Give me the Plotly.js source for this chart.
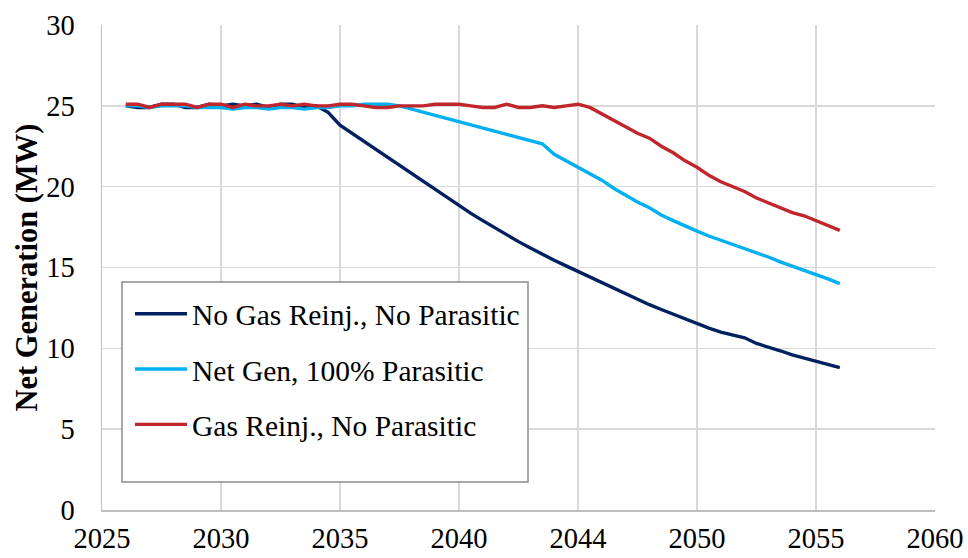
<!DOCTYPE html>
<html>
<head>
<meta charset="utf-8">
<script src="https://cdn.plot.ly/plotly-3.0.1.min.js"></script>
<style>html,body{margin:0;padding:0;background:#fff;}#chart{width:968px;height:558px;}</style>
</head>
<body>
<div id="chart"></div>
<script>
// Years (half-year steps)
const years = [2026,2026.5,2027,2027.5,2028,2028.5,2029,2029.5,2030,2030.5,2031,2031.5,2032,2032.5,2033,2033.5,2034,2034.5,2035,2035.5,2036,2036.5,2037,2037.5,2038,2038.5,2039,2039.5,2040,2040.5,2041,2041.5,2042,2042.5,2043,2043.5,2044,2044.5,2045,2045.5,2046,2046.5,2047,2047.5,2048,2048.5,2049,2049.5,2050,2050.5,2051,2051.5,2052,2052.5,2053,2053.5,2054,2054.5,2055,2055.5,2056];

const noGasNoParasitic = [25.0,24.9,24.9,25.1,25.1,24.9,24.9,25.1,25.0,25.1,25.0,25.1,24.9,25.1,25.1,24.9,25.0,
  24.6,23.8,23.3,22.85,22.35,21.85,21.35,20.85,20.35,19.85,19.35,18.85,18.35,17.9,17.45,17.0,16.6,16.2,15.8,15.45,15.1,14.75,14.4,14.05,13.7,13.35,13.0,12.7,12.4,12.1,11.8,11.5,11.25,11.0,10.8,10.65,10.3,10.1,9.85,9.6,9.4,9.2,9.0,8.8];

const netGen100Parasitic = [25.0,25.0,24.9,25.0,25.0,25.0,24.9,24.9,24.9,24.8,24.9,24.9,24.8,24.9,24.9,24.8,24.9,24.9,25.0,25.0,25.1,25.1,25.1,25.0,24.8,24.6,24.4,24.2,24.0,23.8,23.6,23.4,23.2,23.0,22.8,22.65,22.0,21.6,21.2,20.8,20.4,19.9,19.45,19.05,18.7,18.25,17.9,17.55,17.25,16.95,16.7,16.45,16.15,15.9,15.65,15.35,15.1,14.85,14.6,14.3,14.0];

const gasReinjNoParasitic = [25.1,25.1,24.9,25.1,25.1,25.1,24.9,25.1,25.1,24.9,25.1,25.0,25.0,25.1,25.0,25.1,25.0,25.0,25.1,25.1,25.0,24.9,24.9,25.0,25.0,25.0,25.1,25.1,25.1,25.0,24.9,24.9,25.1,24.9,24.9,25.0,24.9,25.0,25.1,24.9,24.5,24.1,23.7,23.3,23.0,22.5,22.1,21.6,21.2,20.7,20.3,20.0,19.7,19.3,19.0,18.7,18.4,18.2,17.9,17.6,17.3];

const seriesNames = ["No Gas Reinj., No Parasitic","Net Gen, 100% Parasitic","Gas Reinj., No Parasitic"];
const seriesColors = ["#002060","#00b0f0","#c0262c"];

const xTickVals = [2025,2030,2035,2040,2045,2050,2055,2060];
const xTickText = ["2025","2030","2035","2040","2044","2050","2055","2060"];
const yTickVals = [0,5,10,15,20,25,30];
const yTitle = "Net Generation (MW)";

const seriesData = [noGasNoParasitic, netGen100Parasitic, gasReinjNoParasitic];
const traces = seriesData.map((ys, i) => ({
  x: years, y: ys, type: 'scatter', mode: 'lines', name: seriesNames[i],
  legendgroup: 'g' + i,
  line: {color: seriesColors[i], width: 3.4}
}));

const fam = 'Liberation Serif, Times New Roman, serif';
const mk = (size) => ({family: fam, size: size, color: '#000'});

const layout = {
  width: 968, height: 558,
  margin: {l: 102, r: 33, t: 25, b: 48},
  paper_bgcolor: '#fff', plot_bgcolor: '#fff',
  showlegend: true,
  legend: {
    x: 0.0336, y: 0.4577, xanchor: 'left', yanchor: 'top',
    bgcolor: 'rgba(0,0,0,0)', borderwidth: 0,
    font: mk(29.5),
    tracegroupgap: 14, itemwidth: 52,
  },
  shapes: [{
    type: 'rect', xref: 'paper', yref: 'paper', layer: 'above',
    x0: 0.024, x1: 0.5114, y0: 0.0577, y1: 0.4701,
    line: {color: '#8c8c8c', width: 1.5}, fillcolor: '#fff'
  }],
  annotations: [{
    text: '<b>' + yTitle + '</b>', xref: 'paper', yref: 'paper',
    x: -0.0912, y: 0.5, xanchor: 'center', yanchor: 'middle',
    textangle: -90, showarrow: false, font: mk(30.5)
  }],
  xaxis: {
    range: [2025, 2060], tickmode: 'array', tickvals: xTickVals, ticktext: xTickText,
    showgrid: true, gridcolor: '#d9d9d9', gridwidth: 1.5,
    showline: true, linecolor: '#bfbfbf', linewidth: 1.5,
    zeroline: false, ticks: '', ticklabelstandoff: 2, automargin: false,
    tickfont: mk(28.5),
  },
  yaxis: {
    range: [0, 30], tickmode: 'array', tickvals: yTickVals,
    showgrid: true, gridcolor: '#d9d9d9', gridwidth: 1.5,
    showline: true, linecolor: '#bfbfbf', linewidth: 1.5,
    zeroline: false, ticks: '', ticklabelstandoff: 20, automargin: false,
    tickfont: mk(28.5),
  },
};

Plotly.newPlot('chart', traces, layout, {displayModeBar: false, staticPlot: true});
</script>
</body>
</html>
